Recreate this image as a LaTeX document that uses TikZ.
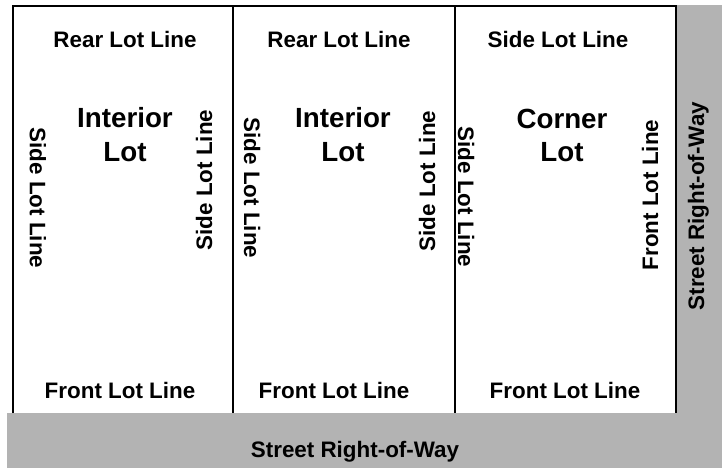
\documentclass[tikz,border=0pt]{standalone}
\usepackage{fontspec}
\setmainfont{Liberation Sans}
\definecolor{rowgrey}{RGB}{179,179,179}

\tikzset{every picture/.style={line width=0.75pt}}
\tikzset{
  lotlbl/.style={inner sep=0pt,text height=12pt,text depth=0pt,font=\fontsize{16.8}{20}\selectfont\bfseries},
  lotname/.style={lotlbl,text height=15pt,font=\fontsize{20.8}{24}\selectfont\bfseries},
  lotline/.style={line width=1.5}
}

\begin{document}
\begin{tikzpicture}[x=0.75pt,y=0.75pt,yscale=-1,xscale=1]
\path (0,0) rectangle (722,468); %set diagram to 722 x 468

%Shape: Rectangle [right of way, side]
\fill [rowgrey] (676,5) rectangle (722,468) ;
%Shape: Rectangle [right of way, bottom]
\fill [rowgrey] (7,413) rectangle (722,468) ;
%Shape: Rectangle [lots]
\draw [lotline] (13,413) -- (13,6) -- (676,6) -- (676,413) ;
%Straight Lines [dividers]
\draw [lotline] (233,6) -- (233,413) ;
\draw [lotline] (455,6) -- (455,413) ;

% Text Node
\draw (125,39) node [lotlbl] (rear1) {Rear Lot Line};
% Text Node
\draw (339,39) node [lotlbl] (rear2) {Rear Lot Line};
% Text Node
\draw (558,39) node [lotlbl] (sidetop3) {Side Lot Line};

% Text Node
\draw (125,117) node [lotname] (interior1) {Interior};
\draw (125,151) node [lotname] (lotname1) {Lot};
% Text Node
\draw (343,117) node [lotname] (interior2) {Interior};
\draw (343,151) node [lotname] (lotname2) {Lot};
% Text Node
\draw (562,118) node [lotname] (corner3) {Corner};
\draw (562,151) node [lotname] (lotname3) {Lot};

% Text Node
\draw (38,198) node [lotlbl,rotate=-90] (sidel1) {Side Lot Line};
% Text Node
\draw (204,180) node [lotlbl,rotate=90] (sider1) {Side Lot Line};
% Text Node
\draw (252,188) node [lotlbl,rotate=-90] (sidel2) {Side Lot Line};
% Text Node
\draw (427,181) node [lotlbl,rotate=90] (sider2) {Side Lot Line};
% Text Node
\draw (466,197) node [lotlbl,rotate=-90] (sidel3) {Side Lot Line};
% Text Node
\draw (650,195) node [lotlbl,rotate=90] (frontr3) {Front Lot Line};
% Text Node
\draw (696,206) node [lotlbl,rotate=90] (streetr) {Street Right-of-Way};

% Text Node
\draw (120,390) node [lotlbl] (front1) {Front Lot Line};
% Text Node
\draw (334,390) node [lotlbl] (front2) {Front Lot Line};
% Text Node
\draw (565,390) node [lotlbl] (front3) {Front Lot Line};
% Text Node
\draw (355,449) node [lotlbl] (streetb) {Street Right-of-Way};

\end{tikzpicture}
\end{document}
